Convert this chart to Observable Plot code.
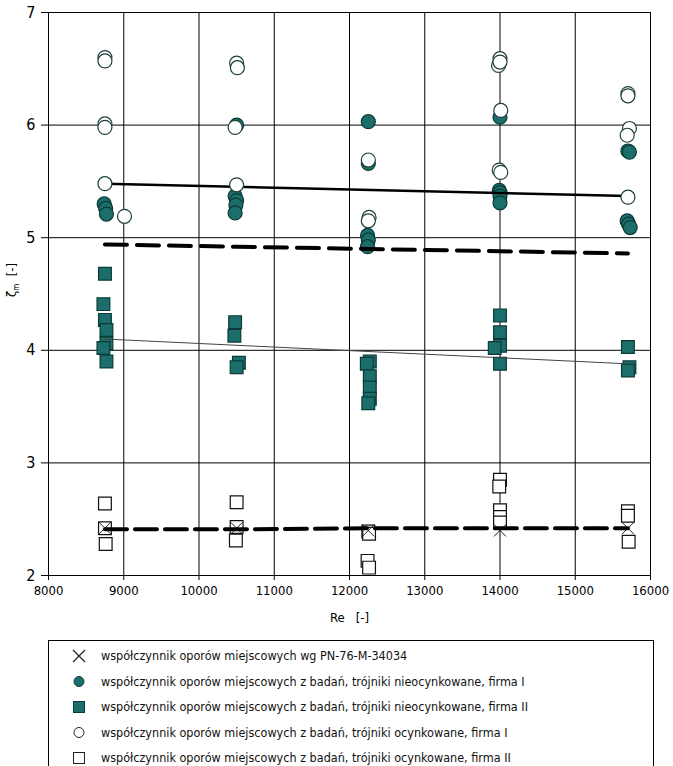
<!DOCTYPE html>
<html>
<head>
<meta charset="utf-8">
<script src="https://cdn.jsdelivr.net/npm/d3@7"></script>
<script src="https://cdn.jsdelivr.net/npm/@observablehq/plot@0.6"></script>
<style>
  body { margin: 0; background: #fff; font-family: "DejaVu Sans Condensed", "Liberation Sans", sans-serif; }
  #chart { width: 673px; }
  #chart > svg { display: block; }
  #legend { margin-left: 48px; margin-top: 10px; width: 606px; height: 130px; border: 1px solid #000; box-sizing: border-box; }
  #legend svg { display: block; }
</style>
</head>
<body>
<div id="chart"></div>
<div id="legend"></div>
<script>
const xTicks = [8000, 9000, 10000, 11000, 12000, 13000, 14000, 15000, 16000];
const yTicks = [2, 3, 4, 5, 6, 7];

// współczynnik wg PN-76-M-34034 (crosses)
const normX = [[8750, 2.42], [10500, 2.42], [12250, 2.40], [14000, 2.40], [15700, 2.42]];
// z badań, nieocynkowane, firma I (filled circles)
const filledCircles = [
  [8740, 5.30], [8760, 5.26], [8770, 5.21],
  [10500, 6.00], [10480, 5.37], [10500, 5.33], [10490, 5.29], [10480, 5.22],
  [12250, 6.03], [12250, 5.66], [12240, 5.02], [12250, 4.98], [12240, 4.92],
  [14000, 6.07], [13990, 5.42], [14000, 5.40], [14000, 5.37], [14000, 5.31],
  [15700, 5.77], [15720, 5.76], [15690, 5.15], [15710, 5.12], [15730, 5.09]
];
// z badań, nieocynkowane, firma II (filled squares)
const filledSquares = [
  [8750, 4.68], [8730, 4.41], [8750, 4.27], [8770, 4.18], [8770, 4.06], [8730, 4.02], [8770, 3.90],
  [10480, 4.25], [10470, 4.13], [10530, 3.89], [10500, 3.85],
  [12270, 3.90], [12230, 3.88], [12270, 3.77], [12270, 3.67], [12270, 3.57], [12250, 3.53],
  [14000, 4.31], [14000, 4.16], [14000, 4.04], [13930, 4.02], [14000, 3.88],
  [15700, 4.03], [15720, 3.85], [15700, 3.82]
];
// z badań, ocynkowane, firma I (open circles)
const openCircles = [
  [8750, 6.60], [8750, 6.57], [8750, 6.01], [8750, 5.98], [8750, 5.48], [9010, 5.19],
  [10500, 6.55], [10510, 6.51], [10480, 5.98], [10500, 5.47],
  [12250, 5.69], [12260, 5.18], [12250, 5.15],
  [14000, 6.59], [13980, 6.53], [14000, 6.56], [14010, 6.13], [13990, 5.60], [14010, 5.58],
  [15700, 6.28], [15700, 6.26], [15720, 5.97], [15690, 5.91], [15700, 5.36]
];
// z badań, ocynkowane, firma II (open squares)
const openSquares = [
  [8750, 2.64], [8750, 2.42], [8760, 2.28],
  [10500, 2.65], [10500, 2.43], [10490, 2.31],
  [12250, 2.39], [12260, 2.37], [12240, 2.13], [12260, 2.07],
  [14000, 2.85], [13990, 2.79], [14000, 2.58], [14000, 2.52], [14000, 2.47],
  [15700, 2.57], [15700, 2.53], [15710, 2.30]
];
// trend lines
const lineSolidThick = [[8750, 5.48], [15700, 5.37]];
const lineDashedTop = [[8750, 4.94], [10500, 4.92], [12250, 4.90], [14000, 4.88], [15700, 4.86]];
const lineThin = [[8750, 4.10], [15700, 3.88]];
const lineDashedBottom = [[8750, 2.41], [10500, 2.41], [12250, 2.42], [14000, 2.42], [15700, 2.42]];

// legend labels
const legendLabels = [
  "współczynnik oporów miejscowych wg PN-76-M-34034",
  "współczynnik oporów miejscowych z badań, trójniki nieocynkowane, firma I",
  "współczynnik oporów miejscowych z badań, trójniki nieocynkowane, firma II",
  "współczynnik oporów miejscowych z badań, trójniki ocynkowane, firma I",
  "współczynnik oporów miejscowych z badań, trójniki ocynkowane, firma II"
];
const legendSymbols = ["x", "fc", "fs", "oc", "os"];

const teal = "#1b6e69";
const tealDark = "#0b3b38";
const FONT = "'DejaVu Sans Condensed', 'Liberation Sans', sans-serif";

const H = 630;
const plot = Plot.plot({
  width: 673,
  height: H,
  marginLeft: 48,
  marginRight: 23,
  marginTop: 12,
  marginBottom: H - 575,
  style: { fontFamily: FONT, background: "#fff", color: "#000" },
  x: { domain: [8000, 16000] },
  y: { domain: [2, 7] },
  marks: [
    Plot.gridX(xTicks, { stroke: "#000", strokeOpacity: 1, strokeWidth: 1 }),
    Plot.gridY(yTicks, { stroke: "#000", strokeOpacity: 1, strokeWidth: 1 }),
    Plot.frame({ stroke: "#000", strokeWidth: 1 }),
    Plot.axisX({ ticks: xTicks, tickSize: 5, tickPadding: 5, fontSize: 13, tickFormat: d3.format("d"),
      label: "Re\u00a0\u00a0\u00a0[-]", labelAnchor: "center", labelArrow: "none", labelOffset: 46 }),
    Plot.axisY({ ticks: yTicks, tickSize: 7, tickPadding: 6, fontSize: 16, tickFormat: d3.format("d"), label: null }),
    Plot.dot(openSquares, { x: d => d[0], y: d => d[1], symbol: "square", r: 7.2, fill: "#fff", stroke: "#111", strokeWidth: 1.2 }),
    Plot.dot(normX, { x: d => d[0], y: d => d[1], symbol: "times", r: 5.5, stroke: "#222", strokeWidth: 1 }),
    Plot.line(lineDashedBottom, { x: d => d[0], y: d => d[1], stroke: "#000", strokeWidth: 4, strokeDasharray: "22,8" }),
    Plot.dot(filledSquares, { x: d => d[0], y: d => d[1], symbol: "square", r: 7.2, fill: teal, stroke: tealDark, strokeWidth: 1.2 }),
    Plot.line(lineThin, { x: d => d[0], y: d => d[1], stroke: "#444", strokeWidth: 1 }),
    Plot.dot(filledCircles, { x: d => d[0], y: d => d[1], symbol: "circle", r: 7, fill: teal, stroke: tealDark, strokeWidth: 1.2 }),
    Plot.line(lineDashedTop, { x: d => d[0], y: d => d[1], stroke: "#000", strokeWidth: 4, strokeDasharray: "22,10" }),
    Plot.line(lineSolidThick, { x: d => d[0], y: d => d[1], stroke: "#000", strokeWidth: 2.5 }),
    Plot.dot(openCircles, { x: d => d[0], y: d => d[1], symbol: "circle", r: 7, fill: "#fff", stroke: "#1e3f3d", strokeWidth: 1.2 })
  ]
});

// y-axis label with subscript
const svg = d3.select(plot);
const lab = svg.append("text")
  .attr("transform", "translate(16,280) rotate(-90)")
  .attr("text-anchor", "middle")
  .attr("font-family", FONT)
  .attr("font-size", 13)
  .attr("fill", "#000");
lab.append("tspan").text("ζ");
lab.append("tspan").attr("font-size", 8).attr("dy", 3).text("m");
lab.append("tspan").attr("dy", -3).text("\u00a0\u00a0[-]");

document.getElementById("chart").appendChild(plot);

// legend (separate svg below the chart)
const lg = d3.select("#legend").append("svg")
  .attr("width", 604).attr("height", 126)
  .attr("font-family", FONT);
legendLabels.forEach((t, i) => {
  const cy = 15 + i * 25.5;
  const cx = 30;
  const g = lg.append("g");
  const s = legendSymbols[i];
  if (s === "x") g.append("path").attr("d", `M${cx-6},${cy-6}L${cx+6},${cy+6}M${cx+6},${cy-6}L${cx-6},${cy+6}`).attr("stroke", "#222").attr("stroke-width", 1.2);
  if (s === "fc") g.append("circle").attr("cx", cx).attr("cy", cy).attr("r", 5).attr("fill", teal).attr("stroke", tealDark);
  if (s === "fs") g.append("rect").attr("x", cx - 5.5).attr("y", cy - 5.5).attr("width", 11).attr("height", 11).attr("fill", teal).attr("stroke", tealDark);
  if (s === "oc") g.append("circle").attr("cx", cx).attr("cy", cy).attr("r", 5).attr("fill", "#fff").attr("stroke", "#222");
  if (s === "os") g.append("rect").attr("x", cx - 5.5).attr("y", cy - 5.5).attr("width", 11).attr("height", 11).attr("fill", "#fff").attr("stroke", "#222");
  g.append("text").attr("x", 52).attr("y", cy).attr("dy", "0.35em")
    .attr("font-size", 12.5).attr("fill", "#111").text(t);
});
</script>
</body>
</html>
